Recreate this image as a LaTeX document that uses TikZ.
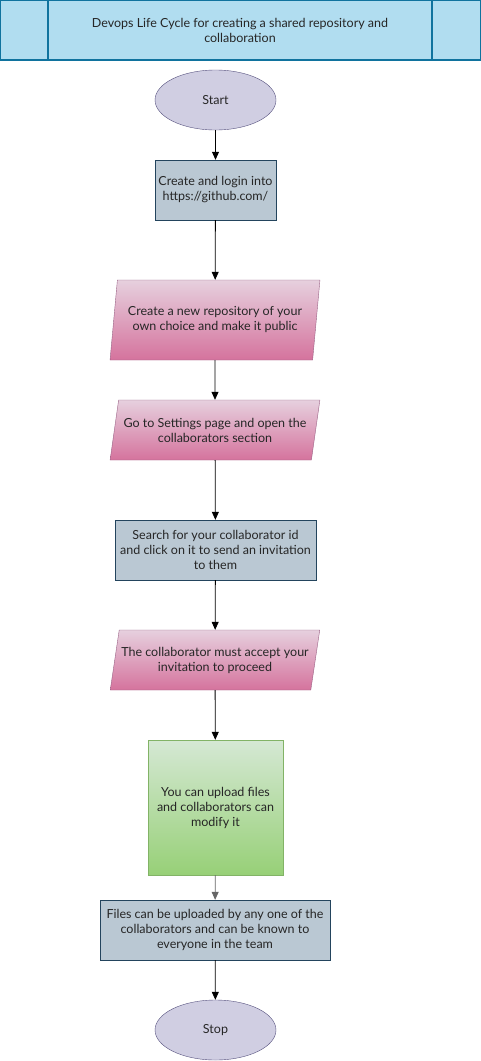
\documentclass[tikz,border=0pt]{standalone}
\usepackage{fontspec}
\setmainfont{Lato}
\usetikzlibrary{shapes.geometric,arrows.meta}

\definecolor{titlefill}{HTML}{B1DDF0}
\definecolor{titleline}{HTML}{10739E}
\definecolor{endfill}{HTML}{D0CEE2}
\definecolor{endline}{HTML}{56517E}
\definecolor{stepfill}{HTML}{BAC8D3}
\definecolor{stepline}{HTML}{23445D}
\definecolor{iotop}{HTML}{E6D0DE}
\definecolor{iobot}{HTML}{D5739D}
\definecolor{ioline}{HTML}{996185}
\definecolor{greentop}{HTML}{D5E8D4}
\definecolor{greenbot}{HTML}{97D077}
\definecolor{greenline}{HTML}{82B366}

\tikzset{
  every node/.style={font=\fontsize{12.5}{15}\selectfont, text=black!85, align=center, inner sep=0pt},
  terminal/.style={ellipse, draw=endline, fill=endfill, minimum width=121pt, minimum height=60pt},
  stepbox/.style={rectangle, draw=stepline, fill=stepfill, minimum height=60pt},
  iobox/.style={trapezium, trapezium left angle=71.6, trapezium right angle=108.4,
    trapezium stretches=true, draw=ioline, top color=iotop, bottom color=iobot,
    minimum width=210pt, minimum height=60pt},
  arr/.style={-{Triangle[length=8pt,width=7pt]}, line width=0.8pt}
}

\begin{document}
\begin{tikzpicture}[x=1pt, y=-1pt]
\useasboundingbox (0,0) rectangle (481,1061);
% title bar
\draw[titleline, fill=titlefill, line width=1.2pt] (0.6,0.6) rectangle (480.4,60);
\draw[titleline, line width=1.2pt] (48,0.6) -- (48,60);
\draw[titleline, line width=1.2pt] (432,0.6) -- (432,60);
\node (title) at (240,30) {Devops Life Cycle for creating a shared repository and\\collaboration};
%
\node[terminal] (start) at (215.5,100) {Start};
\node[stepbox, minimum width=121pt] (login) at (215.5,190) {Create and login into\\https://github.com/};
\node[iobox, minimum height=80pt, trapezium left angle=76, trapezium right angle=104] (repo) at (215,320) {Create a new repository of your\\own choice and make it public};
\node[iobox] (settings) at (215,430) {Go to Settings page and open the\\collaborators section};
\node[stepbox, minimum width=201pt] (search) at (215.5,550) {Search for your collaborator id\\and click on it to send an invitation\\to them};
\node[iobox] (accept) at (215,660) {The collaborator must accept your\\invitation to proceed};
\node[rectangle, draw=greenline, top color=greentop, bottom color=greenbot,
  minimum width=135pt, minimum height=135pt] (upload) at (215.5,807.5) {You can upload files\\and collaborators can\\modify it};
\node[stepbox, minimum width=230pt] (known) at (215,930) {Files can be uploaded by any one of the\\collaborators and can be known to\\everyone in the team};
\node[terminal] (stop) at (215.5,1030) {Stop};
%
\draw[arr] (start) -- (login);
\draw[arr] (login) -- (repo);
\draw[arr] (repo) -- (settings);
\draw[arr] (settings) -- (search);
\draw[arr] (search) -- (accept);
\draw[arr] (accept) -- (upload);
\draw[arr, draw=black!60] (upload) -- (known);
\draw[arr] (known) -- (stop);
\end{tikzpicture}
\end{document}
